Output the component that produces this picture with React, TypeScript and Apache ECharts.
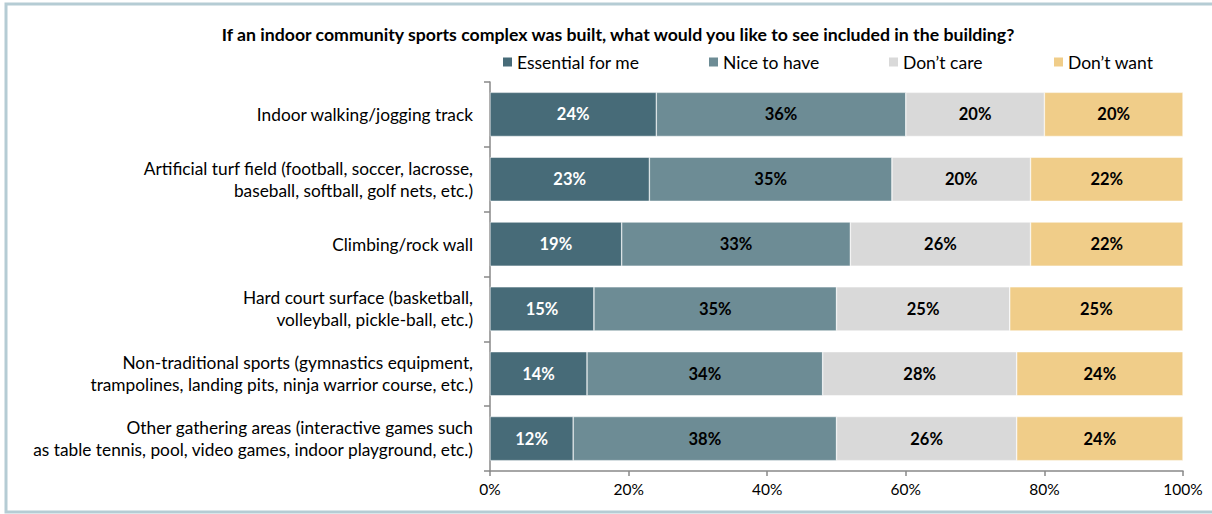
import React, { useEffect, useRef } from "react";
import * as echarts from "echarts";

const categories = [
  "Indoor walking/jogging track",
  "Artificial turf field (football, soccer, lacrosse,\nbaseball, softball, golf nets, etc.)",
  "Climbing/rock wall",
  "Hard court surface (basketball,\nvolleyball, pickle-ball, etc.)",
  "Non-traditional sports (gymnastics equipment,\ntrampolines, landing pits, ninja warrior course, etc.)",
  "Other gathering areas (interactive games such\nas table tennis, pool, video games, indoor playground, etc.)",
];
const essential = [24, 23, 19, 15, 14, 12];
const niceToHave = [36, 35, 33, 35, 34, 38];
const dontCare = [20, 20, 26, 25, 28, 26];
const dontWant = [20, 22, 22, 25, 24, 24];
const seriesNames = ["Essential for me", "Nice to have", "Don\u2019t care", "Don\u2019t want"];
const seriesValues = [essential, niceToHave, dontCare, dontWant];
const colors = ["#476b78", "#6d8c95", "#d9d9d9", "#f0cd89"];
const labelColors = ["#ffffff", "#000000", "#000000", "#000000"];
const xTicks = [0, 20, 40, 60, 80, 100];
const title = "If an indoor community sports complex was built, what would you like to see included in the building?";

const FONT = "Lato, 'Open Sans', sans-serif";

export default function App() {
  const ref = useRef<HTMLDivElement>(null);
  useEffect(() => {
    document.body.style.margin = "0";
    if (!ref.current) return;
    const chart = echarts.init(ref.current, null, { renderer: "svg" });
    const legendLefts = [501, 707, 887, 1052];
    chart.setOption({
      animation: false,
      backgroundColor: "#ffffff",
      textStyle: { fontFamily: FONT },
      title: {
        text: title,
        left: 613,
        textAlign: "center",
        top: 20,
        textStyle: { fontFamily: FONT, fontSize: 17.7, fontWeight: "bold", color: "#000" },
      },
      legend: seriesNames.map((n, i) => ({
        data: [n],
        left: legendLefts[i],
        top: 53,
        itemWidth: 11,
        itemHeight: 11,
        itemGap: 0,
        icon: "rect",
        textStyle: { fontFamily: FONT, fontSize: 17.5, color: "#000", padding: [0, 0, 0, -1] },
        padding: 0,
      })),
      graphic: [
        {
          type: "rect",
          shape: { x: 6, y: 4, width: 1230, height: 508 },
          style: { fill: "none", stroke: "#b5ccd4", lineWidth: 3 },
          silent: true,
          z: -1,
        },
      ],
      grid: { left: 490, right: 29, top: 82, bottom: 43, containLabel: false },
      xAxis: {
        type: "value",
        min: 0,
        max: 100,
        interval: 20,
        axisLine: { show: true, lineStyle: { color: "#898989", width: 1.5 } },
        axisTick: { show: true, length: 5, lineStyle: { color: "#898989", width: 1.5 } },
        splitLine: { show: false },
        axisLabel: {
          formatter: (v: number) => (xTicks.includes(v) ? v + "%" : ""),
          fontFamily: FONT,
          fontSize: 15.5,
          color: "#000",
          margin: 10,
        },
      },
      yAxis: {
        type: "category",
        data: categories,
        inverse: true,
        axisLine: { show: true, lineStyle: { color: "#898989", width: 1.5 } },
        axisTick: { show: true, length: 6, lineStyle: { color: "#898989", width: 1.5 } },
        axisLabel: {
          fontFamily: FONT,
          fontSize: 17.3,
          color: "#000",
          margin: 17,
          lineHeight: 22,
          align: "right",
        },
      },
      series: seriesValues.map((vals, i) => ({
        name: seriesNames[i],
        type: "bar",
        stack: "total",
        barCategoryGap: "32%",
        data: vals,
        itemStyle: { color: colors[i], borderColor: "#ffffff", borderWidth: 0.5 },
        label: {
          show: true,
          position: "inside",
          formatter: (p: any) => p.value + "%",
          fontFamily: FONT,
          fontSize: 16.5,
          fontWeight: "bold",
          color: labelColors[i],
        },
      })),
    });
    return () => chart.dispose();
  }, []);
  return <div ref={ref} style={{ width: 1212, height: 514 }} />;
}
